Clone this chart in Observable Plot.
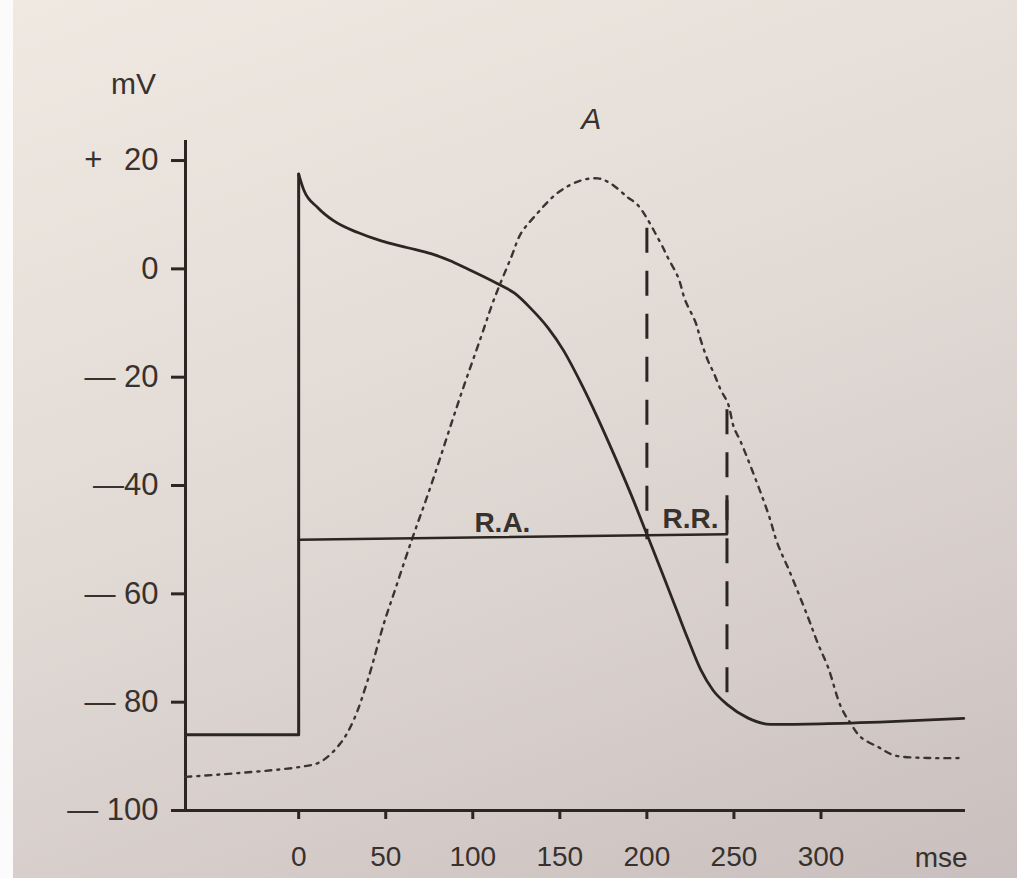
<!DOCTYPE html>
<html>
<head>
<meta charset="utf-8">
<script src="https://cdn.jsdelivr.net/npm/d3@7"></script>
<script src="https://cdn.jsdelivr.net/npm/@observablehq/plot@0.6"></script>
<style>
  html, body { margin: 0; padding: 0; }
  body {
    width: 1017px; height: 878px; overflow: hidden; position: relative;
    background: linear-gradient(160deg, #efe9e2 0%, #e4ddd7 40%, #d6cdca 75%, #c8bfbe 100%);
  }
  #strip { position: absolute; left: 0; top: 0; width: 13px; height: 878px; background: #fbfbfb; }
  #chart { position: absolute; left: 0; top: 0; }
</style>
</head>
<body>
<div id="strip"></div>
<div id="chart"></div>
<script>
// ---- tick labels ----
const xTicks = [0, 50, 100, 150, 200, 250, 300];
const yTicks = [20, 0, -20, -40, -60, -80, -100];
const yTickLabels = ["+\u2002\u200920", "0", "\u2014 20", "\u201440", "\u2014 60", "\u2014 80", "\u2014 100"];

// ---- action potential (solid) : resting level and upstroke ----
const upTime = [-65, 0, 0];
const upVoltage = [-86, -86, 17.5];

// ---- action potential (solid) : repolarisation ----
const apTime = [0, 3, 11, 20, 34, 47, 62.6, 76, 87, 95, 114, 124, 133, 143, 152, 162, 171.7, 181, 190.7, 200, 209.6, 217.7, 223.4, 230.9, 238, 246.4, 257.9, 271, 300, 340, 382];
const apVoltage = [17.5, 14.5, 11.3, 8.9, 6.7, 5.2, 3.9, 2.8, 1.5, 0.3, -2.7, -4.5, -7.2, -10.8, -15, -21, -27.5, -34.2, -41.5, -49, -56.8, -63.5, -68.2, -74, -77.8, -80.5, -82.9, -84.1, -84, -83.6, -83];

// ---- dash-dot curve ----
const ddTime = [-65, 0, 12.6, 24, 31.6, 39.6, 49, 54.6, 65, 76, 93, 104.6, 112, 122, 127.6, 135, 149, 162, 172, 179, 189, 195, 208, 212, 218, 222, 228, 231, 235, 238.5, 242.5, 246.5, 250, 254, 269.5, 275, 281.6, 292.5, 298, 304, 311.5, 317, 323, 333, 342, 361.5, 382];
const ddVoltage = [-93.8, -92, -91, -87.6, -83.3, -76, -65.4, -60, -50, -40, -23.4, -12.7, -5.8, 2.1, 6.5, 9.5, 14.1, 16.3, 16.7, 15.8, 13.2, 11.7, 4.7, 2.1, -1.6, -5.8, -9.9, -13.2, -16.9, -19.3, -22.4, -24.8, -29.3, -32, -45, -50.7, -55.6, -64.3, -69, -73.5, -80.9, -83.9, -86.5, -88.3, -89.8, -90.3, -90.3];

// ---- refractory periods ----
const raTime = [0, 246];
const raVoltage = [-50, -49];
const dashTimes = [200, 246];
const dashTop = [7.5, -26];
const dashBottom = [-50, -80.5];
const bracketTime = [246];
const bracketTop = [-42.8];
const bracketBottom = [-49];
const periodLabels = ["R.A.", "R.R."];
const periodLabelTime = [117, 225];
const periodLabelVoltage = [-50, -49.3];

const ink = "#2c2622";
const textInk = "#38312e";
const toPts = (xs, ys) => xs.map((x, i) => ({x, y: ys[i]}));
const yLabelMap = new Map(yTicks.map((d, i) => [d, yTickLabels[i]]));

const chart = Plot.plot({
  width: 1017,
  height: 878,
  marginLeft: 185,
  marginRight: 52,
  marginTop: 140,
  marginBottom: 68,
  x: {domain: [-65, 383]},
  y: {domain: [-100, 23.7]},
  style: {background: "transparent", fontFamily: "'Liberation Sans', Arial, sans-serif", color: ink},
  marks: [
    // axes lines
    Plot.ruleX([-65], {y1: -100, y2: 23.7, stroke: ink, strokeWidth: 3}),
    Plot.ruleY([-100], {x1: -65, x2: 383, stroke: ink, strokeWidth: 3}),
    Plot.axisY(yTicks, {anchor: "left", tickSize: 14, tickPadding: 13, fontSize: 31, strokeWidth: 3, stroke: ink, fill: textInk, label: null, tickFormat: d => yLabelMap.get(d)}),
    Plot.axisX(xTicks, {anchor: "bottom", tickSize: 9, tickPadding: 27, fontSize: 28, strokeWidth: 3, stroke: ink, fill: textInk, label: null, tickFormat: d => String(d)}),
    // dash-dot curve
    Plot.line(toPts(ddTime, ddVoltage), {x: "x", y: "y", curve: "catmull-rom", stroke: "#3a3431", strokeWidth: 2.4, strokeDasharray: "6,6,2,6"}),
    // action potential
    Plot.line(toPts(upTime, upVoltage), {x: "x", y: "y", stroke: ink, strokeWidth: 3}),
    Plot.line(toPts(apTime, apVoltage), {x: "x", y: "y", curve: "monotone-x", stroke: ink, strokeWidth: 2.8}),
    // refractory periods
    Plot.line(toPts(raTime, raVoltage), {x: "x", y: "y", stroke: ink, strokeWidth: 2.6}),
    Plot.ruleX(dashTimes.map((t, i) => ({t, y1: dashTop[i], y2: dashBottom[i]})), {x: "t", y1: "y1", y2: "y2", stroke: ink, strokeWidth: 3, strokeDasharray: "25,18"}),
    Plot.ruleX(bracketTime.map((t, i) => ({t, y1: bracketTop[i], y2: bracketBottom[i]})), {x: "t", y1: "y1", y2: "y2", stroke: ink, strokeWidth: 3}),
    Plot.text(periodLabels.map((s, i) => ({s, x: periodLabelTime[i], y: periodLabelVoltage[i]})), {x: "x", y: "y", text: "s", lineAnchor: "bottom", dy: -8, fontSize: 28, fontWeight: "bold", fill: textInk, textAnchor: "middle"}),
    // annotations
    Plot.text(["mV"], {frameAnchor: "top-left", lineAnchor: "middle", dx: -52, dy: -56, fontSize: 30, fill: textInk, textAnchor: "middle"}),
    Plot.text(["A"], {x: [168], y: [27.6], fontSize: 30, fontStyle: "italic", fill: textInk, textAnchor: "middle"}),
    Plot.text(["mse"], {x: [369], y: [-100], dy: 48, fontSize: 28, fill: textInk, textAnchor: "middle"})
  ]
});
document.getElementById("chart").appendChild(chart);
</script>
</body>
</html>
